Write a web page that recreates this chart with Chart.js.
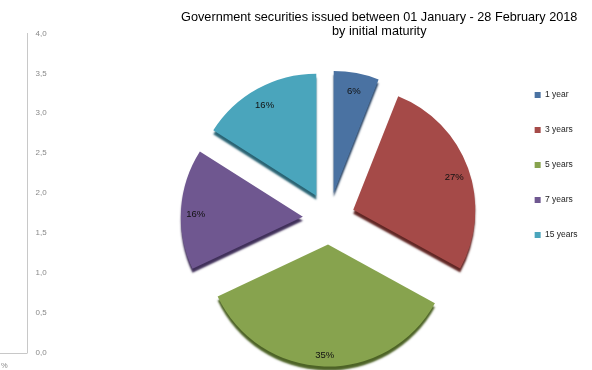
<!DOCTYPE html>
<html>
<head>
<meta charset="utf-8">
<script src="https://cdn.jsdelivr.net/npm/chart.js@4.4.0/dist/chart.umd.min.js"></script>
<style>
  html, body { margin: 0; padding: 0; background: #fff; }
  #wrap { position: relative; width: 592px; height: 370px; }
  #wrap canvas { position: absolute; left: 0; top: 0; }
</style>
</head>
<body>
<div id="wrap">
  <canvas id="axis" width="592" height="370"></canvas>
  <canvas id="pie" width="592" height="370"></canvas>
</div>
<script>
const titleLines = ['Government securities issued between 01 January - 28 February 2018', 'by initial maturity'];
const maturities = ['1 year', '3 years', '5 years', '7 years', '15 years'];
const shares = [6, 27, 35, 16, 16];
const sliceColours = ['#4a72a2', '#a54a48', '#87a34e', '#6f5790', '#4aa5bc'];
const edgeColours = ['#2c4666', '#622725', '#4d6326', '#40305a', '#2a6474'];
const axisTicks = ['0,0', '0,5', '1,0', '1,5', '2,0', '2,5', '3,0', '3,5', '4,0'];

const FONT = "'Liberation Sans', Arial, sans-serif";
Chart.defaults.font.family = FONT;

const explodeDist = 26;   // how far each slice is pulled out
const labelRadius = 0.88; // label distance, as a share of the radius
const labelDrop = 4;      // labels sit a little below their anchor

// draws every slice pulled out along its bisector, with a dark rim underneath
const explodedSlices = {
  id: 'explodedSlices',
  beforeDatasetDraw(chart, args) {
    const ctx = chart.ctx;
    args.meta.data.forEach((arc, i) => {
      const mid = (arc.startAngle + arc.endAngle) / 2;
      ctx.save();
      ctx.translate(Math.cos(mid) * explodeDist, Math.sin(mid) * explodeDist);
      ctx.shadowColor = edgeColours[i];
      ctx.shadowOffsetX = 0;
      ctx.shadowOffsetY = 4;
      ctx.shadowBlur = 2;
      arc.draw(ctx);
      ctx.restore();
    });
    return false;
  }
};

const percentLabels = {
  id: 'percentLabels',
  afterDatasetsDraw(chart) {
    const ctx = chart.ctx;
    const meta = chart.getDatasetMeta(0);
    ctx.save();
    ctx.font = '9.5px ' + FONT;
    ctx.fillStyle = '#111';
    ctx.textAlign = 'center';
    ctx.textBaseline = 'middle';
    meta.data.forEach((arc, i) => {
      const mid = (arc.startAngle + arc.endAngle) / 2;
      const dist = explodeDist + arc.outerRadius * labelRadius;
      ctx.fillText(shares[i] + '%', arc.x + Math.cos(mid) * dist, arc.y + Math.sin(mid) * dist + labelDrop);
    });
    ctx.restore();
  }
};

new Chart(document.getElementById('pie'), {
  type: 'pie',
  data: {
    labels: maturities,
    datasets: [{
      data: shares,
      backgroundColor: sliceColours,
      borderWidth: 0
    }]
  },
  options: {
    responsive: false,
    animation: false,
    events: [],
    radius: 122,
    layout: { padding: { left: 171, right: 4.5, top: 0, bottom: 40 } },
    scales: {
      // empty column between the pie and the legend
      gutter: {
        type: 'linear',
        position: 'right',
        ticks: { display: false },
        grid: { display: false },
        border: { display: false },
        afterFit(scale) { scale.width = 21.5; }
      }
    },
    plugins: {
      title: {
        display: true,
        text: titleLines,
        color: '#000',
        font: { size: 12.7, weight: 'normal', lineHeight: 1.13 },
        padding: { top: 10, bottom: 68.3 }
      },
      legend: {
        position: 'right',
        labels: {
          boxWidth: 6,
          boxHeight: 6,
          padding: 26.5,
          color: '#222',
          font: { size: 8.5 }
        }
      },
      tooltip: { enabled: false }
    }
  },
  plugins: [explodedSlices, percentLabels]
});

// the bare value axis on the left edge
const axisStub = {
  id: 'axisStub',
  afterDraw(chart) {
    const y = chart.scales.y;
    const ctx = chart.ctx;
    const base = Math.round(y.getPixelForValue(0)) + 0.5;
    ctx.save();
    ctx.strokeStyle = '#c8c8c8';
    ctx.lineWidth = 1;
    ctx.beginPath();
    ctx.moveTo(0, base);
    ctx.lineTo(y.right, base);
    ctx.stroke();
    ctx.fillStyle = '#888';
    ctx.font = '7.5px ' + FONT;
    ctx.textBaseline = 'middle';
    ctx.fillText('%', 1, base + 12);
    ctx.restore();
  }
};

new Chart(document.getElementById('axis'), {
  type: 'line',
  data: { labels: [], datasets: [] },
  options: {
    responsive: false,
    animation: false,
    events: [],
    layout: { padding: { left: 27.5, right: 0, top: 33.5, bottom: 17.5 } },
    scales: {
      x: { display: false },
      y: {
        position: 'left',
        min: 0,
        max: 4,
        ticks: {
          stepSize: 0.5,
          mirror: true,
          padding: 8,
          color: '#888',
          font: { size: 8 },
          callback: (v, i) => axisTicks[i]
        },
        grid: { drawOnChartArea: false, drawTicks: false, color: '#c8c8c8' },
        border: { color: '#c8c8c8' },
        afterFit(scale) { scale.width = 0; }
      }
    },
    plugins: {
      legend: { display: false },
      title: { display: false },
      tooltip: { enabled: false }
    }
  },
  plugins: [axisStub]
});
</script>
</body>
</html>
